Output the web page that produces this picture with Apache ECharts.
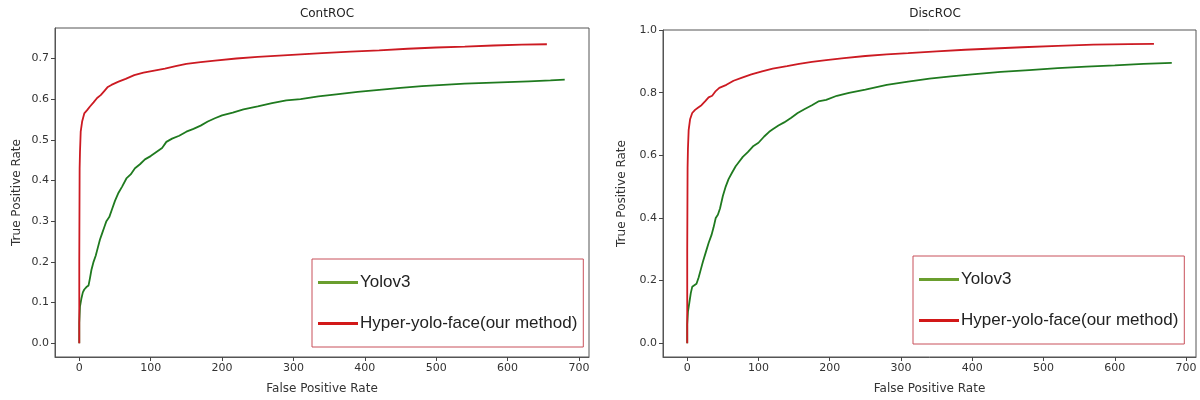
<!DOCTYPE html>
<html>
<head>
<meta charset="utf-8">
<script src="https://cdn.jsdelivr.net/npm/echarts@6/dist/echarts.min.js"></script>
<style>html,body{margin:0;padding:0;background:#fff}#c{width:1200px;height:400px}</style>
</head>
<body>
<div id="c"></div>
<script>
// ---- data ----
const titles = ['ContROC', 'DiscROC'];
const seriesNames = ['Yolov3', 'Hyper-yolo-face(our method)'];
const xTicks = [0, 100, 200, 300, 400, 500, 600, 700];
const contYTicks = [0, 0.1, 0.2, 0.3, 0.4, 0.5, 0.6, 0.7];
const discYTicks = [0, 0.2, 0.4, 0.6, 0.8, 1.0];

const contYoloX = [0, 0, 1, 3, 5, 7, 10, 13, 15, 17, 20, 23, 26, 29, 32, 35, 38, 42, 46, 50, 55, 60, 66, 72, 78, 85, 92, 100, 108, 116, 122, 130, 140, 150, 160, 170, 180, 190, 200, 215, 230, 250, 270, 290, 310, 335, 360, 390, 420, 450, 480, 510, 540, 570, 600, 630, 660, 680];
const contYoloY = [0, 0.05, 0.09, 0.11, 0.125, 0.132, 0.138, 0.142, 0.16, 0.18, 0.2, 0.215, 0.235, 0.255, 0.27, 0.285, 0.3, 0.31, 0.33, 0.35, 0.37, 0.385, 0.405, 0.415, 0.43, 0.44, 0.452, 0.46, 0.47, 0.48, 0.495, 0.503, 0.51, 0.52, 0.527, 0.535, 0.545, 0.553, 0.56, 0.567, 0.575, 0.582, 0.59, 0.597, 0.6, 0.607, 0.612, 0.618, 0.623, 0.628, 0.632, 0.635, 0.638, 0.64, 0.642, 0.644, 0.646, 0.648];

const contHyperX = [0, 0, 0.5, 1, 2, 4, 7, 11, 15, 20, 25, 30, 35, 40, 45, 55, 65, 77, 90, 105, 120, 135, 150, 170, 190, 220, 250, 280, 310, 340, 380, 420, 460, 500, 540, 580, 620, 655];
const contHyperY = [0, 0.2, 0.43, 0.47, 0.52, 0.545, 0.565, 0.573, 0.582, 0.592, 0.603, 0.61, 0.62, 0.63, 0.635, 0.643, 0.65, 0.659, 0.665, 0.67, 0.675, 0.681, 0.687, 0.691, 0.695, 0.7, 0.704, 0.707, 0.71, 0.713, 0.717, 0.72, 0.724, 0.727, 0.729, 0.732, 0.734, 0.735];

const discYoloX = [0, 0, 1, 3, 5, 7, 10, 13, 16, 19, 22, 26, 30, 34, 37, 40, 43, 46, 50, 54, 58, 63, 68, 72, 78, 85, 93, 100, 108, 115, 120, 128, 136, 146, 155, 165, 175, 184, 195, 210, 227, 250, 280, 310, 340, 370, 400, 440, 480, 520, 560, 600, 640, 680];
const discYoloY = [0, 0.06, 0.1, 0.13, 0.16, 0.18, 0.185, 0.19, 0.21, 0.235, 0.26, 0.29, 0.32, 0.345, 0.37, 0.4, 0.41, 0.43, 0.47, 0.5, 0.524, 0.545, 0.565, 0.577, 0.595, 0.61, 0.63, 0.64, 0.66, 0.675, 0.683, 0.695, 0.705, 0.72, 0.735, 0.748, 0.76, 0.772, 0.777, 0.79, 0.799, 0.81, 0.825, 0.835, 0.845, 0.852, 0.858, 0.866, 0.872, 0.878, 0.883, 0.887, 0.892, 0.895];

const discHyperX = [0, 0, 0.5, 1, 2, 4, 7, 11, 15, 20, 25, 30, 35, 40, 45, 55, 65, 77, 90, 105, 120, 140, 157, 175, 195, 220, 250, 280, 310, 350, 390, 430, 470, 520, 570, 620, 655];
const discHyperY = [0, 0.3, 0.56, 0.62, 0.68, 0.715, 0.735, 0.745, 0.752, 0.76, 0.772, 0.785, 0.79, 0.805, 0.815, 0.825, 0.838, 0.848, 0.858, 0.868, 0.877, 0.885, 0.892, 0.898, 0.904, 0.91, 0.917, 0.922, 0.926, 0.932, 0.937, 0.941, 0.945, 0.949, 0.953, 0.955, 0.956];

// ---- build ----
const zip = (xs, ys) => xs.map((x, i) => [x, ys[i]]);
const lineGreen = '#1f7a1f', lineRed = '#cc1a22';
const legGreen = '#6a9e2e', legRed = '#d21818';
const tickFont = { fontFamily: 'DejaVu Sans', fontSize: 11, color: '#333' };

function xAxis(gi) {
  return {
    type: 'value', gridIndex: gi, min: -34, max: 714,
    name: 'False Positive Rate', nameLocation: 'middle', nameGap: 26,
    nameTextStyle: { fontFamily: 'DejaVu Sans', fontSize: 12, color: '#333' },
    axisLine: { show: true, onZero: false, lineStyle: { color: '#555' } },
    axisTick: { show: true, length: 4, customValues: xTicks, lineStyle: { color: '#444' } },
    axisLabel: Object.assign({ customValues: xTicks, margin: 6 }, tickFont),
    splitLine: { show: false }
  };
}
function yAxis(gi, min, max, ticks, gap) {
  return {
    type: 'value', gridIndex: gi, min: min, max: max,
    name: 'True Positive Rate', nameLocation: 'middle', nameGap: gap,
    nameTextStyle: { fontFamily: 'DejaVu Sans', fontSize: 12, color: '#333' },
    axisLine: { show: true, onZero: false, lineStyle: { color: '#555' } },
    axisTick: { show: true, length: 4, customValues: ticks, lineStyle: { color: '#444' } },
    axisLabel: Object.assign({ customValues: ticks, margin: 6, formatter: v => v.toFixed(1) }, tickFont),
    splitLine: { show: false }
  };
}
function legend(left, top) {
  return {
    orient: 'vertical', left: left, top: top,
    padding: [15, 6, 15, 6], itemGap: 24, itemWidth: 40, itemHeight: 3, icon: 'rect',
    borderColor: '#c8505a', borderWidth: 1, backgroundColor: '#fff',
    textStyle: { fontFamily: 'Liberation Sans', fontSize: 17, color: '#222', padding: [0, 0, 0, -3] },
    data: [
      { name: seriesNames[0], itemStyle: { color: legGreen } },
      { name: seriesNames[1], itemStyle: { color: legRed } }
    ]
  };
}
function series(name, gi, data, color) {
  return {
    name: name, type: 'line', xAxisIndex: gi, yAxisIndex: gi, data: data,
    showSymbol: false, symbol: 'none', animation: false,
    lineStyle: { color: color, width: 1.8 }, itemStyle: { color: color }
  };
}

const chart = echarts.init(document.getElementById('c'));
chart.setOption({
  animation: false,
  title: [
    { text: titles[0], left: 322, top: 3, textAlign: 'center', textStyle: { fontFamily: 'DejaVu Sans', fontSize: 12, fontWeight: 'normal', color: '#222' } },
    { text: titles[1], left: 930, top: 3, textAlign: 'center', textStyle: { fontFamily: 'DejaVu Sans', fontSize: 12, fontWeight: 'normal', color: '#222' } }
  ],
  grid: [
    { left: 55, top: 28, width: 534, height: 331, show: true, borderColor: '#555', borderWidth: 1, containLabel: false },
    { left: 663, top: 30, width: 533, height: 329, show: true, borderColor: '#555', borderWidth: 1, containLabel: false }
  ],
  xAxis: [xAxis(0), xAxis(1)],
  yAxis: [yAxis(0, -0.034, 0.775, contYTicks, 32), yAxis(1, -0.044, 1.0, discYTicks, 35)],
  legend: [legend(312, 259), legend(913, 256)],
  series: [
    series(seriesNames[0], 0, zip(contYoloX, contYoloY), lineGreen),
    series(seriesNames[1], 0, zip(contHyperX, contHyperY), lineRed),
    series(seriesNames[0], 1, zip(discYoloX, discYoloY), lineGreen),
    series(seriesNames[1], 1, zip(discHyperX, discHyperY), lineRed)
  ]
});
</script>
</body>
</html>
